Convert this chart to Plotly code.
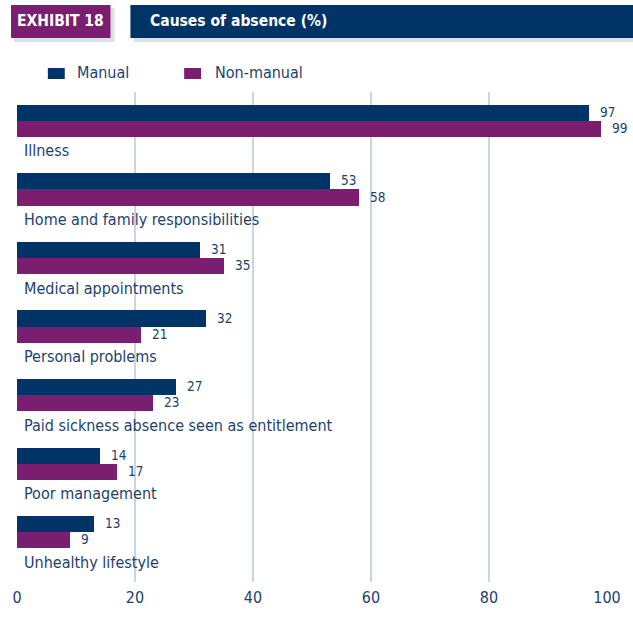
import plotly.graph_objects as go

# Survey data: causes of absence, % of respondents
causes = [
    "Illness",
    "Home and family responsibilities",
    "Medical appointments",
    "Personal problems",
    "Paid sickness absence seen as entitlement",
    "Poor management",
    "Unhealthy lifestyle",
]
manual = [97, 53, 31, 32, 27, 14, 13]
non_manual = [99, 58, 35, 21, 23, 17, 9]
x_ticks = [0, 20, 40, 60, 80, 100]
series_names = ["Manual", "Non-manual"]

NAVY = "#003366"
PURPLE = "#7a1f6f"
TEXT = "#233f6b"
GRID = "#cbd5e1"
FONT = "DejaVu Sans Condensed, Liberation Sans Narrow, Roboto, sans-serif"

W, H = 633, 638
L, R, T, B = 14, 26, 92, 56
PW, PH = W - L - R, H - T - B


def px_x(p):
    return (p - L) / PW


def px_y(p):
    return (H - B - p) / PH


# each cause occupies one unit band: manual bar, non-manual bar, then label
idx = list(range(len(causes)))
y_manual = [i + 0.305 for i in idx]
y_non = [i + 0.54 for i in idx]
y_label = [i + 0.86 for i in idx]

fig = go.Figure()
fig.add_trace(go.Bar(
    name=series_names[0], x=manual, y=y_manual, orientation="h", width=0.235,
    marker=dict(color=NAVY, line=dict(width=0)),
))
fig.add_trace(go.Bar(
    name=series_names[1], x=non_manual, y=y_non, orientation="h", width=0.235,
    marker=dict(color=PURPLE, line=dict(width=0)),
))

annotations = []
# value labels just right of each bar end
for vals, ys in ((manual, y_manual), (non_manual, y_non)):
    for v, yv in zip(vals, ys):
        annotations.append(dict(
            x=v, y=yv, xref="x", yref="y", text=str(v), showarrow=False,
            xanchor="left", yanchor="middle", xshift=9, yshift=1,
            font=dict(family=FONT, size=13.5, color=TEXT),
        ))

# cause names under each pair of bars
for name, yl in zip(causes, y_label):
    annotations.append(dict(
        x=0, y=yl, xref="x", yref="y", text=name, showarrow=False,
        xanchor="left", yanchor="middle", xshift=5,
        font=dict(family=FONT, size=16, color=TEXT),
    ))

shapes = [
    # header boxes with soft shadow
    dict(type="rect", xref="paper", yref="paper",
         x0=px_x(11), x1=px_x(112), y0=px_y(42), y1=px_y(8),
         fillcolor="rgba(120,130,150,0.25)", line=dict(width=0), layer="below"),
    dict(type="rect", xref="paper", yref="paper",
         x0=px_x(8), x1=px_x(108), y0=px_y(38), y1=px_y(5),
         fillcolor=PURPLE, line=dict(width=0)),
    dict(type="rect", xref="paper", yref="paper",
         x0=px_x(131), x1=px_x(636), y0=px_y(42), y1=px_y(8),
         fillcolor="rgba(120,130,150,0.25)", line=dict(width=0), layer="below"),
    dict(type="rect", xref="paper", yref="paper",
         x0=px_x(128), x1=px_x(640), y0=px_y(38), y1=px_y(5),
         fillcolor=NAVY, line=dict(width=0)),
    # legend swatches
    dict(type="rect", xref="paper", yref="paper",
         x0=px_x(45), x1=px_x(62), y0=px_y(79), y1=px_y(68),
         fillcolor=NAVY, line=dict(width=0)),
    dict(type="rect", xref="paper", yref="paper",
         x0=px_x(182), x1=px_x(199), y0=px_y(79), y1=px_y(68),
         fillcolor=PURPLE, line=dict(width=0)),
]

annotations += [
    dict(x=px_x(58), y=px_y(21.5), xref="paper", yref="paper", text="<b>EXHIBIT 18</b>",
         showarrow=False, xanchor="center", yanchor="middle",
         font=dict(family=FONT, size=15.5, color="white")),
    dict(x=px_x(146), y=px_y(21.5), xref="paper", yref="paper", text="<b>Causes of absence (%)</b>",
         showarrow=False, xanchor="left", yanchor="middle",
         font=dict(family=FONT, size=15.5, color="white")),
    dict(x=px_x(72), y=px_y(73), xref="paper", yref="paper", text=series_names[0],
         showarrow=False, xanchor="left", yanchor="middle",
         font=dict(family=FONT, size=16, color=TEXT)),
    dict(x=px_x(211), y=px_y(73), xref="paper", yref="paper", text=series_names[1],
         showarrow=False, xanchor="left", yanchor="middle",
         font=dict(family=FONT, size=16, color=TEXT)),
]

fig.update_layout(
    width=W, height=H,
    margin=dict(l=L, r=R, t=T, b=B),
    paper_bgcolor="white", plot_bgcolor="white",
    barmode="overlay", bargap=0,
    showlegend=False,
    xaxis=dict(
        range=[0, 100], tickvals=x_ticks, ticktext=[str(v) for v in x_ticks],
        showgrid=True, gridcolor=GRID, gridwidth=2, zeroline=False,
        showline=False, ticks="", tickfont=dict(family=FONT, size=16, color=TEXT),
        ticklabelstandoff=4, fixedrange=True,
    ),
    yaxis=dict(
        range=[len(causes) + 0.15, 0], showgrid=False, zeroline=False, showline=False,
        showticklabels=False, ticks="",
    ),
    shapes=shapes,
    annotations=annotations,
)

fig.write_html("out.html")
